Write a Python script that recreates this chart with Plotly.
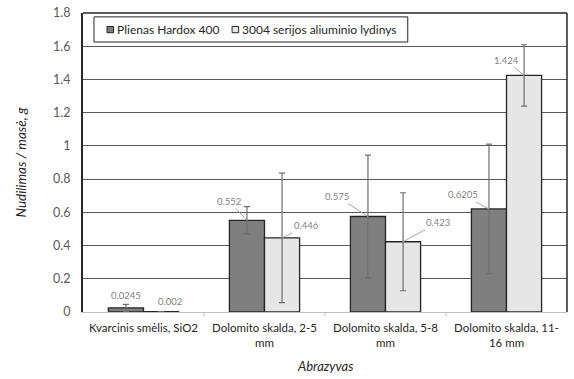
import plotly.graph_objects as go

categories = ["Kvarcinis smėlis, SiO2", "Dolomito skalda, 2-5<br>mm",
              "Dolomito skalda, 5-8<br>mm", "Dolomito skalda, 11-<br>16 mm"]
series_names = ["Plienas Hardox 400", "3004 serijos aliuminio lydinys"]
hardox = [0.0245, 0.552, 0.575, 0.6205]
hardox_err = [0.022, 0.082, 0.37, 0.39]
alu = [0.002, 0.446, 0.423, 1.424]
alu_err = [0.0, 0.39, 0.295, 0.185]
hardox_labels = ["0.0245", "0.552", "0.575", "0.6205"]
alu_labels = ["0.002", "0.446", "0.423", "1.424"]
colors = ["#7f7f7f", "#e6e6e6"]

font = "Lato, 'Open Sans', sans-serif"
bargap = 0.42
off = (1 - bargap) / 4

fig = go.Figure()
fig.add_trace(go.Bar(
    x=list(range(4)), y=hardox, name=series_names[0], showlegend=False,
    marker=dict(color=colors[0], line=dict(color="#262626", width=1.3)),
    error_y=dict(type="data", array=hardox_err, color="#6f6f6f", thickness=1.2, width=3),
))
fig.add_trace(go.Bar(
    x=list(range(4)), y=alu, name=series_names[1], showlegend=False,
    marker=dict(color=colors[1], line=dict(color="#262626", width=1.3)),
    error_y=dict(type="data", array=alu_err, color="#6f6f6f", thickness=1.2, width=3),
))

# data labels: (index, series offset sign, text, value, ax, ay, arrow)
label_specs = [
    (0, -1, hardox_labels[0], hardox[0], 0, -12, False),
    (0, 1, alu_labels[0], alu[0], 9, -10, False),
    (1, -1, hardox_labels[1], hardox[1], -18, -19, True),
    (1, 1, alu_labels[1], alu[1], 24, -12, True),
    (2, -1, hardox_labels[2], hardox[2], -31, -20, True),
    (2, 1, alu_labels[2], alu[2], 35, -19, True),
    (3, -1, hardox_labels[3], hardox[3], -26, -14, True),
    (3, 1, alu_labels[3], alu[3], -18, -15, True),
]
for i, s, txt, val, ax, ay, arrow in label_specs:
    x = i + s * off
    if arrow:
        fig.add_annotation(x=x, y=val, xref="x", yref="y", text=txt, showarrow=True,
                           arrowhead=0, arrowwidth=1, arrowcolor="#a6a6a6",
                           ax=ax, ay=ay, standoff=0,
                           font=dict(family=font, size=9.5, color="#7f7f7f"))
    else:
        fig.add_annotation(x=x, y=val, xref="x", yref="y", text=txt, showarrow=False,
                           xshift=ax, yshift=-ay,
                           font=dict(family=font, size=9.5, color="#7f7f7f"))

# axis titles
fig.add_annotation(text="<i>Abrazyvas</i>", xref="paper", yref="paper", x=0.5, y=-0.18,
                   xanchor="center", yanchor="middle", showarrow=False,
                   font=dict(family=font, size=13, color="#262626"))
fig.add_annotation(text="<i>Nudilimas / masė, g</i>", xref="paper", yref="paper",
                   x=-0.13, y=0.5, xanchor="center", yanchor="middle", showarrow=False,
                   textangle=-90, font=dict(family=font, size=13.5, color="#262626"))

# manual legend (box, swatches, texts)
fig.add_shape(type="rect", xref="paper", yref="paper", x0=0.0227, x1=0.671, y0=0.903, y1=0.987,
              line=dict(color="#262626", width=1), fillcolor="white", layer="above")
leg_items = [(0.0496, series_names[0]), (0.308, series_names[1])]
for (lx, name), col in zip(leg_items, colors):
    fig.add_shape(type="rect", xref="paper", yref="paper", x0=lx, x1=lx + 0.0135,
                  y0=0.934, y1=0.955, line=dict(color="#262626", width=1),
                  fillcolor=col, layer="above")
    fig.add_annotation(text=name, xref="paper", yref="paper", x=lx + 0.0155, y=0.945,
                       xanchor="left", yanchor="middle", showarrow=False,
                       font=dict(family=font, size=12, color="#262626"))

# top and right border
fig.add_shape(type="line", xref="paper", yref="paper", x0=0, x1=1, y0=1, y1=1,
              line=dict(color="#262626", width=1.5))
fig.add_shape(type="line", xref="paper", yref="paper", x0=1, x1=1, y0=0, y1=1,
              line=dict(color="#262626", width=1.5))
# category boundary ticks
for b in [0.5, 1.5, 2.5]:
    fig.add_shape(type="line", xref="x", yref="paper", x0=b, x1=b, y0=0, y1=-0.015,
                  line=dict(color="#bfbfbf", width=1))

fig.update_layout(
    width=574, height=379,
    margin=dict(l=83, r=7, t=13, b=67, autoexpand=False),
    paper_bgcolor="white", plot_bgcolor="white",
    barmode="group", bargap=bargap, bargroupgap=0,
    font=dict(family=font, size=11, color="#595959"),
    showlegend=False,
    xaxis=dict(
        tickmode="array", tickvals=list(range(4)), ticktext=categories,
        range=[-0.5, 3.5], showline=True, linecolor="#bfbfbf", linewidth=1,
        ticks="", showgrid=False, zeroline=False, automargin=False, tickangle=0,
        ticklabelstandoff=5,
        tickfont=dict(family=font, size=11.5, color="#262626"),
    ),
    yaxis=dict(
        range=[0, 1.8], dtick=0.2, showline=True, linecolor="#262626", linewidth=2,
        showgrid=True, gridcolor="#595959", gridwidth=1.3, zeroline=False, ticks="",
        automargin=False, ticklabelstandoff=8,
        tickfont=dict(family=font, size=12.5, color="#595959"),
    ),
)

fig.write_html("out.html", config={"displayModeBar": False},
               post_script="document.body.style.margin='0';")
